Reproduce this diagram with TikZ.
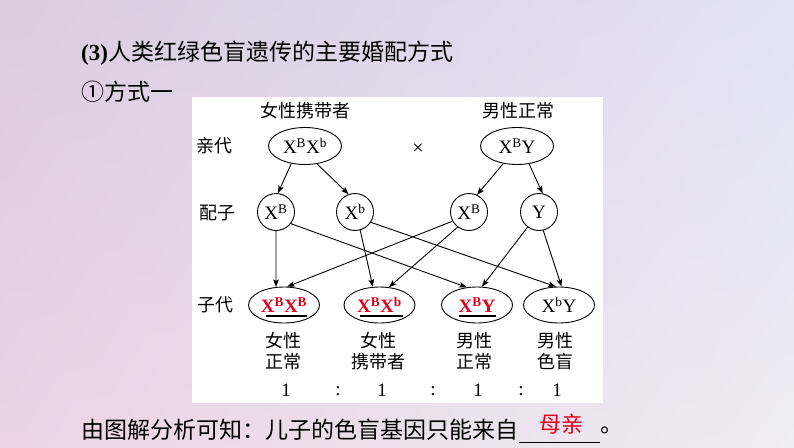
\documentclass[tikz,border=0pt]{standalone}
\usepackage{fontspec}
\setmainfont{Liberation Serif}
\newfontfamily\cjk{Noto Sans CJK SC}
\usetikzlibrary{shapes.geometric,arrows.meta,calc,shadings}
\definecolor{redtxt}{HTML}{E0001B}
\definecolor{bgUL}{HTML}{DCCBDF}
\definecolor{bgUR}{HTML}{E2E2F4}
\definecolor{bgLL}{HTML}{ECD3E6}
\definecolor{bgLR}{HTML}{EEECF4}
\tikzset{
  lab/.style={font=\cjk\fontsize{18}{21}\selectfont, inner sep=0pt, align=center},
  big/.style={font=\cjk\fontsize{23}{27}\selectfont, inner sep=0pt, anchor=west},
  gen/.style={font=\fontsize{19}{21}\selectfont, inner sep=0pt},
  pell/.style={ellipse, draw, line width=0.9pt, minimum width=73pt, minimum height=37pt, inner sep=0pt, font=\fontsize{19}{21}\selectfont},
  cell/.style={ellipse, draw, line width=0.9pt, minimum width=71pt, minimum height=36pt, inner sep=0pt, font=\fontsize{19}{21}\selectfont},
  gam/.style={circle, draw, line width=0.9pt, minimum size=37pt, inner sep=0pt, font=\fontsize{19}{21}\selectfont},
  arr/.style={line width=0.9pt, -{Stealth[length=7.5pt,width=5.5pt,inset=1.5pt]}},
  uline/.style={line width=1.3pt}
}
\newcommand{\sus}[1]{\textsuperscript{#1}}
\begin{document}
\begin{tikzpicture}[x=1pt,y=-1pt]
\useasboundingbox (0,0) rectangle (794,447);
\shade[upper left=bgUL, upper right=bgUR, lower left=bgLL, lower right=bgLR] (0,0) rectangle (794,447);
\fill[white] (192,97) rectangle (603,403);

% title lines
\node[big] (title) at (81,53) {{\fontspec{Liberation Serif}\bfseries (3)}人类红绿色盲遗传的主要婚配方式};
\node[big] (way) at (81,92) {①方式一};

% column labels
\node[lab] (lf) at (305,111) {女性携带者};
\node[lab] (lm) at (518,111) {男性正常};
\node[lab] (rp) at (214,146) {亲代};
\node[lab] (rg) at (217,213) {配子};
\node[lab] (rc) at (215,305) {子代};

% parents
\node[pell] (p1) at (305,146) {X\sus{B}X\sus{b}};
\node[pell] (p2) at (517,146) {X\sus{B}Y};
\node[font=\fontsize{20}{22}\selectfont, inner sep=0pt] (cross) at (418,149) {×};

% gametes
\node[gam] (g1) at (276,212) {X\sus{B}};
\node[gam] (g2) at (355,212) {X\sus{b}};
\node[gam] (g3) at (469,212) {X\sus{B}};
\node[gam] (g4) at (539,212) {Y};

% children
\node[cell] (c1) at (284,305) {\color{redtxt}\bfseries X\sus{B}X\sus{B}};
\node[cell] (c2) at (379.5,305) {\color{redtxt}\bfseries X\sus{B}X\sus{b}};
\node[cell] (c3) at (477,305) {\color{redtxt}\bfseries X\sus{B}Y};
\node[cell] (c4) at (559,305) {X\sus{b}Y};

\draw[uline] ($(c1.center)+(-18,11)$) -- ($(c1.center)+(23,11)$);
\draw[uline] ($(c2.center)+(-20,11)$) -- ($(c2.center)+(23,11)$);
\draw[uline] ($(c3.center)+(-18,11)$) -- ($(c3.center)+(19,11)$);

% arrows parents -> gametes
\draw[arr] (p1.232) -- (g1.84);
\draw[arr] (p1.304) -- (g2.110);
\draw[arr] (p2.232) -- (g3.65);
\draw[arr] (p2.304) -- (g4.79);

% arrows gametes -> children
\draw[arr] (g1.south) -- (c1.114);
\draw[arr] (g1.-38) -- (c3.120);
\draw[arr] (g2.-74) -- (c2.110);
\draw[arr] (g2.-33) -- (c4.100);
\draw[arr] (g3.209) -- (c1.80);
\draw[arr] (g3.233) -- (c2.62);
\draw[arr] (g4.233) -- (c3.75);
\draw[arr] (g4.283) -- (c4.82);

% phenotype labels
\node[lab] (t1) at (283,351) {女性\\正常};
\node[lab] (t2) at (378,351) {女性\\携带者};
\node[lab] (t3) at (474,351) {男性\\正常};
\node[lab] (t4) at (555,351) {男性\\色盲};

% ratio
\node[gen] (r1) at (286,390) {1};
\node[gen] (k1) at (338,391) {:};
\node[gen] (r2) at (382,390) {1};
\node[gen] (k2) at (433,391) {:};
\node[gen] (r3) at (478,390) {1};
\node[gen] (k3) at (521,391) {:};
\node[gen] (r4) at (557,390) {1};

% bottom sentence
\node[big] (concl) at (81,430) {由图解分析可知：儿子的色盲基因只能来自};
\coordinate (ua) at (519,442);
\coordinate (ub) at (600,442);
\draw[line width=0.9pt] (ua) -- (ub);
\node[font=\cjk\fontsize{22}{24}\selectfont, text=redtxt, inner sep=0pt] (ans) at (561,424) {母亲};
\node[big] (stop) at (600,430) {。};
\end{tikzpicture}
\end{document}
